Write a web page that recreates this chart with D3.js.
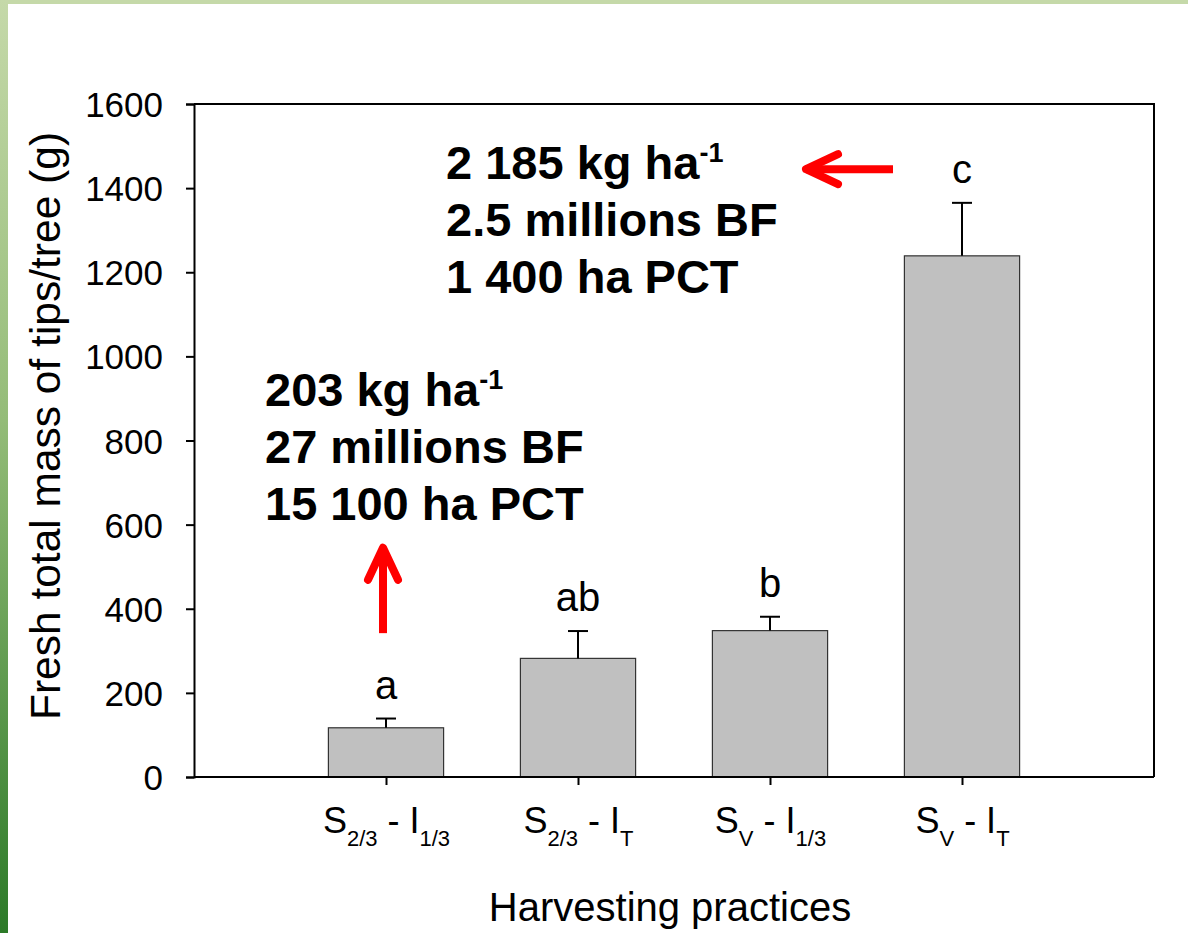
<!DOCTYPE html>
<html>
<head>
<meta charset="utf-8">
<script src="https://cdn.jsdelivr.net/npm/d3@7"></script>
<style>
  html, body { margin: 0; padding: 0; background: #fff; }
  svg { display: block; font-family: "Liberation Sans", Arial, sans-serif; }
</style>
</head>
<body>
<svg id="chart" width="1188" height="933"></svg>
<script>
// ---- data ----
const categories = ["S2/3 - I1/3", "S2/3 - IT", "SV - I1/3", "SV - IT"];
const categoryParts = [
  [["S", false], ["2/3", true], [" - ", false], ["I", false], ["1/3", true]],
  [["S", false], ["2/3", true], [" - ", false], ["I", false], ["T", true]],
  [["S", false], ["V", true], [" - ", false], ["I", false], ["1/3", true]],
  [["S", false], ["V", true], [" - ", false], ["I", false], ["T", true]]
];
const means = [117, 282, 348, 1239];
const errors = [22, 65, 33, 126];
const letters = ["a", "ab", "b", "c"];
const yTicks = [0, 200, 400, 600, 800, 1000, 1200, 1400, 1600];
const yTitle = "Fresh total mass of tips/tree (g)";
const xTitle = "Harvesting practices";
const noteTop = [["2 185 kg ha", "-1"], ["2.5 millions BF", ""], ["1 400 ha PCT", ""]];
const noteLeft = [["203 kg ha", "-1"], ["27 millions BF", ""], ["15 100 ha PCT", ""]];

// ---- layout ----
const svg = d3.select("#chart");
const L = 194, R = 1154, T = 104, B = 777;

// background border (green gradient frame)
const defs = svg.append("defs");
const grad = defs.append("linearGradient").attr("id", "gstrip")
  .attr("x1", 0).attr("y1", 0).attr("x2", 0).attr("y2", 1);
grad.append("stop").attr("offset", "0").attr("stop-color", "#c5d9a9");
grad.append("stop").attr("offset", "0.45").attr("stop-color", "#94bc78");
grad.append("stop").attr("offset", "1").attr("stop-color", "#2c7a28");
svg.append("rect").attr("x", 0).attr("y", 0).attr("width", 1188).attr("height", 4).attr("fill", "#c5d9a9");
svg.append("rect").attr("x", 0).attr("y", 0).attr("width", 8).attr("height", 933).attr("fill", "url(#gstrip)");

const x = d3.scalePoint().domain(categories).range([L, R]).padding(1);
const y = d3.scaleLinear().domain([0, 1600]).range([B, T]);
const bw = x.step() * 0.6;

// frame (top & right)
svg.append("path")
  .attr("d", `M${L},${T}H${R}V${B}`)
  .attr("fill", "none").attr("stroke", "#000").attr("stroke-width", 2);

// bars
svg.append("g").selectAll("rect").data(means).join("rect")
  .attr("x", (d, i) => x(categories[i]) - bw / 2)
  .attr("y", d => y(d))
  .attr("width", bw)
  .attr("height", d => y(0) - y(d))
  .attr("fill", "#c0c0c0")
  .attr("stroke", "#333").attr("stroke-width", 1.2);

// error bars (upper only)
const eg = svg.append("g").attr("stroke", "#000").attr("stroke-width", 2);
means.forEach((m, i) => {
  const cx = x(categories[i]);
  eg.append("line").attr("x1", cx).attr("x2", cx).attr("y1", y(m)).attr("y2", y(m + errors[i]));
  eg.append("line").attr("x1", cx - 10).attr("x2", cx + 10).attr("y1", y(m + errors[i])).attr("y2", y(m + errors[i]));
});

// significance letters
svg.append("g").selectAll("text").data(letters).join("text")
  .attr("x", (d, i) => x(categories[i]))
  .attr("y", (d, i) => y(means[i] + errors[i]) - 20)
  .attr("text-anchor", "middle")
  .attr("font-size", 40)
  .attr("fill", "#000")
  .text(d => d);

// y axis
const yAxis = svg.append("g").attr("transform", `translate(${L},0)`)
  .call(d3.axisLeft(y).tickValues(yTicks).tickSize(8).tickPadding(23).tickFormat(d3.format("d")));
yAxis.select(".domain").attr("stroke-width", 2);
yAxis.selectAll(".tick line").attr("stroke-width", 2);
yAxis.selectAll(".tick text").attr("font-size", 35).attr("font-family", "Liberation Sans, Arial, sans-serif").attr("fill", "#000").attr("dy", "0.36em");

// x axis
const xAxis = svg.append("g").attr("transform", `translate(0,${B})`)
  .call(d3.axisBottom(x).tickSize(8).tickSizeOuter(0).tickFormat(() => ""));
xAxis.select(".domain").attr("stroke-width", 2).attr("d", `M${L},0H${R}`);
xAxis.selectAll(".tick line").attr("stroke-width", 2);
xAxis.selectAll(".tick").each(function(d, i) {
  const t = d3.select(this).select("text")
    .attr("y", 56).attr("dy", null)
    .attr("font-size", 36).attr("fill", "#000")
    .attr("font-family", "Liberation Sans, Arial, sans-serif");
  let shifted = false;
  categoryParts[i].forEach(([s, sub]) => {
    const ts = t.append("tspan").text(s).attr("xml:space", "preserve");
    if (sub && !shifted) { ts.attr("dy", 13).attr("font-size", 22); shifted = true; }
    else if (sub) { ts.attr("font-size", 22); }
    else if (!sub && shifted) { ts.attr("dy", -13); shifted = false; }
  });
});
xAxis.selectAll(".tick text").style("white-space", "pre");

// axis titles
svg.append("text")
  .attr("transform", `translate(60,426) rotate(-90)`)
  .attr("text-anchor", "middle").attr("font-size", 42.5).attr("fill", "#000")
  .text(yTitle);
svg.append("text")
  .attr("x", (L + R) / 2 - 4).attr("y", 921)
  .attr("text-anchor", "middle").attr("font-size", 40).attr("fill", "#000")
  .text(xTitle);

// annotations
function note(lines, x0, y0) {
  const g = svg.append("g").attr("font-weight", "bold").attr("font-size", 47).attr("fill", "#000");
  lines.forEach(([main, sup], k) => {
    const t = g.append("text").attr("x", x0).attr("y", y0 + k * 57);
    t.append("tspan").text(main);
    if (sup) t.append("tspan").attr("font-size", 27).attr("dy", -17).text(sup);
  });
}
note(noteTop, 446, 179);
note(noteLeft, 265, 406);

// red arrows
const ag = svg.append("g").attr("stroke", "#ff0000").attr("stroke-width", 8).attr("fill", "none");
// horizontal arrow pointing left, at y = 1445
const ay = y(1445);
ag.append("line").attr("x1", 806).attr("x2", 893).attr("y1", ay).attr("y2", ay);
ag.append("path").attr("d", `M838,${ay - 15}L806,${ay}L838,${ay + 15}`)
  .attr("stroke-linecap", "round").attr("stroke-linejoin", "round");
// vertical arrow pointing up
const ax = 383;
ag.append("line").attr("x1", ax).attr("x2", ax).attr("y1", y(342)).attr("y2", y(545));
ag.append("path").attr("d", `M${ax - 15},${y(545) + 32}L${ax},${y(545)}L${ax + 15},${y(545) + 32}`)
  .attr("stroke-linecap", "round").attr("stroke-linejoin", "round");
</script>
</body>
</html>
